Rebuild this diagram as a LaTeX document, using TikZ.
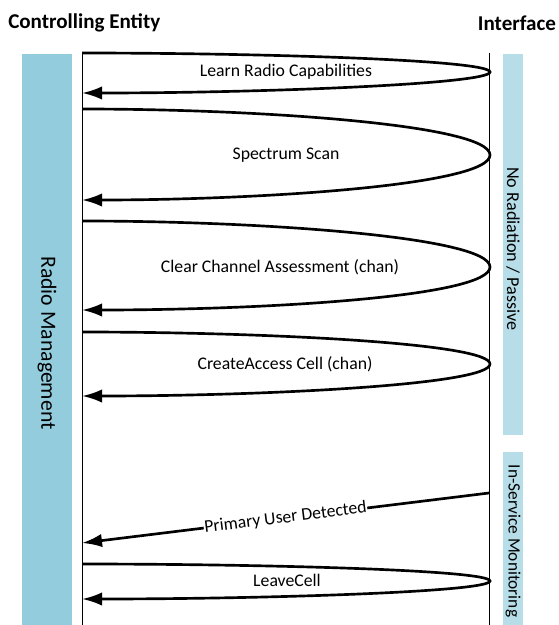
\documentclass[tikz,border=0pt]{standalone}
\usepackage{fontspec}
\setmainfont{Carlito}
\usetikzlibrary{arrows.meta,positioning}

\definecolor{mgmtblue}{HTML}{93CDDD}
\definecolor{phaseblue}{HTML}{B7DEE8}

\tikzset{
    heading/.style={font=\bfseries\fontsize{15.8}{18}\selectfont, inner sep=0pt},
    lifeline/.style={line width=0.6pt},
    msg/.style={line width=2pt, -{Latex[length=15pt,width=10pt]}},
    msglabel/.style={font=\fontsize{13.3}{15}\selectfont, inner sep=1pt},
    barlabel/.style={rotate=-90, inner sep=0pt},
}

\begin{document}
\begin{tikzpicture}[x=0.75pt, y=-0.75pt]
    \useasboundingbox (0,0) rectangle (558,625);

    % headings
    \node [heading, anchor=west] (ce) at (8,23) {Controlling Entity};
    \node [heading] (ifc) at (517,23) {Interface};

    % phase bars
    \fill [mgmtblue] (22,54) rectangle (72,625);
    \fill [phaseblue] (503,54) rectangle (523,435);
    \fill [phaseblue] (503,452) rectangle (523,625);
    \node [barlabel, font=\fontsize{16.3}{18}\selectfont] (mgmt) at (47,343) {Radio Management};
    \node [barlabel, font=\fontsize{13.6}{16}\selectfont] (passive) at (513,249) {No Radiation / Passive};
    \node [barlabel, font=\fontsize{13}{15}\selectfont] (monitor) at (513,541) {In-Service Monitoring};

    % lifelines
    \coordinate (ce top) at (82,53);
    \coordinate (ce bot) at (82,625);
    \coordinate (if top) at (489,53);
    \coordinate (if bot) at (489,625);
    \draw [lifeline] (ce top) -- (ce bot);
    \draw [lifeline] (if top) -- (if bot);

    % learn radio capabilities
    \coordinate (lrc s) at (82,53);
    \coordinate (lrc t) at (490,72);
    \coordinate (lrc e) at (82,93);
    \draw [msg] (lrc s) .. controls +(180,0) and +(0,-12) .. (lrc t)
                        .. controls +(0,12) and +(180,0) .. (lrc e);
    \node [msglabel] (lrc) at (286,72) {Learn Radio Capabilities};

    % spectrum scan
    \coordinate (ss s) at (82,109);
    \coordinate (ss t) at (490,155);
    \coordinate (ss e) at (82,200);
    \draw [msg] (ss s) .. controls +(180,0) and +(0,-30) .. (ss t)
                       .. controls +(0,30) and +(180,0) .. (ss e);
    \node [msglabel] (ss) at (286,155) {Spectrum Scan};

    % clear channel assessment
    \coordinate (cca s) at (82,221);
    \coordinate (cca t) at (490,267);
    \coordinate (cca e) at (82,310);
    \draw [msg] (cca s) .. controls +(180,0) and +(0,-30) .. (cca t)
                        .. controls +(0,30) and +(180,0) .. (cca e);
    \node [msglabel] (cca) at (280,267) {Clear Channel Assessment (chan)};

    % create access cell
    \coordinate (cac s) at (82,332);
    \coordinate (cac t) at (490,364);
    \coordinate (cac e) at (82,396);
    \draw [msg] (cac s) .. controls +(180,0) and +(0,-21) .. (cac t)
                        .. controls +(0,21) and +(180,0) .. (cac e);
    \node [msglabel] (cac) at (285,364) {CreateAccess Cell (chan)};

    % primary user detected
    \coordinate (pud s) at (489,493);
    \coordinate (pud e) at (82,543);
    \draw [msg] (pud s) -- node [msglabel, sloped, fill=white, inner sep=0.5pt] (pud) {Primary User Detected} (pud e);

    % leave cell
    \coordinate (lc s) at (82,564);
    \coordinate (lc t) at (490,581);
    \coordinate (lc e) at (82,599);
    \draw [msg] (lc s) .. controls +(180,0) and +(0,-11) .. (lc t)
                       .. controls +(0,11) and +(180,0) .. (lc e);
    \node [msglabel] (lc) at (287,580) {LeaveCell};
\end{tikzpicture}
\end{document}
